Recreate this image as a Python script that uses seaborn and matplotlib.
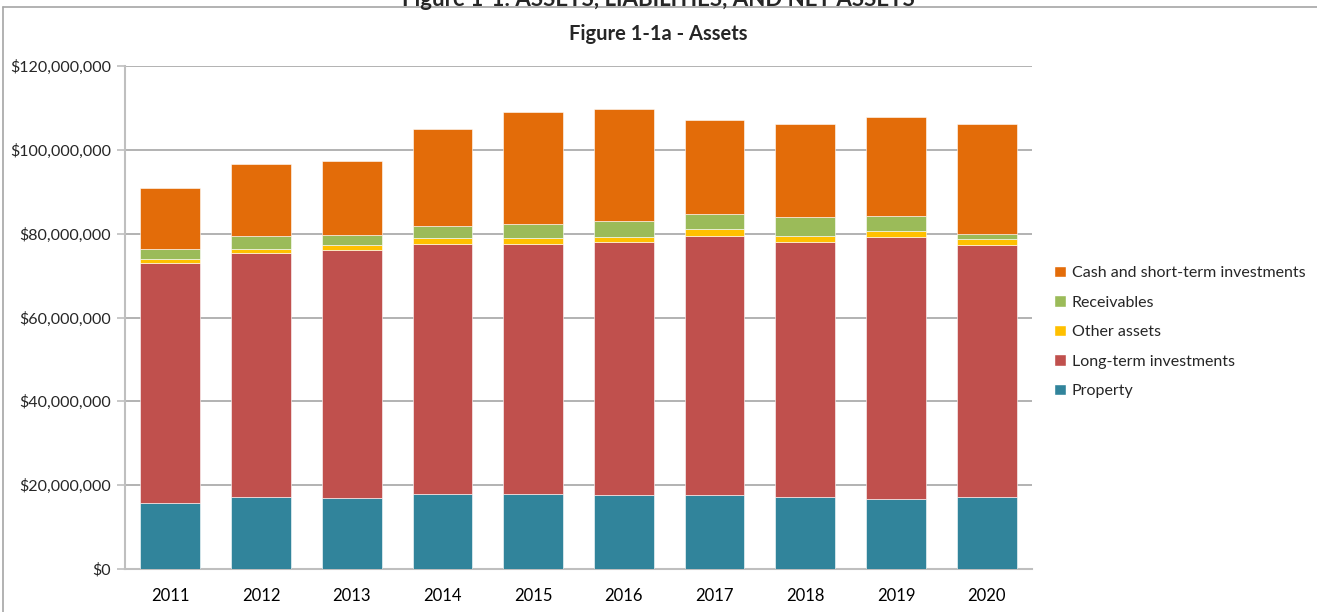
import seaborn as sns
import matplotlib.pyplot as plt
import matplotlib.ticker as mticker
from matplotlib.lines import Line2D
from matplotlib.patches import Patch
import pandas as pd

# values in $ millions
years = ['2011', '2012', '2013', '2014', '2015', '2016', '2017', '2018', '2019', '2020']
property_ = [15.75, 17.1, 17.0, 18.0, 17.8, 17.6, 17.6, 17.1, 16.8, 17.1]
long_term = [57.35, 58.2, 59.1, 59.6, 59.8, 60.3, 61.9, 60.9, 62.3, 60.1]
other_assets = [0.95, 1.1, 1.3, 1.4, 1.4, 1.4, 1.6, 1.5, 1.5, 1.5]
receivables = [2.35, 3.1, 2.3, 2.9, 3.3, 3.8, 3.6, 4.5, 3.6, 1.3]
cash = [14.5, 17.2, 17.6, 23.1, 26.8, 26.7, 22.4, 22.1, 23.6, 26.2]

series = ['Property', 'Long-term investments', 'Other assets', 'Receivables',
          'Cash and short-term investments']
colors = ['#31849B', '#C0504D', '#FFC000', '#9BBB59', '#E36C09']

df = pd.DataFrame({
    'year': years,
    'Property': property_,
    'Long-term investments': long_term,
    'Other assets': other_assets,
    'Receivables': receivables,
    'Cash and short-term investments': cash,
})
for s in series:
    df[s] = df[s] * 1e6

sns.set_style('white')
plt.rcParams['font.family'] = ['Lato', 'DejaVu Sans']

fig = plt.figure(figsize=(13.17, 6.12), dpi=100)
ax = fig.add_axes([125 / 1317, 1 - 569 / 612, (1032 - 125) / 1317, (569 - 66) / 612])

bottom = pd.Series([0.0] * len(df))
for s, c in zip(series, colors):
    sns.barplot(data=df, x='year', y=s, bottom=bottom.values, color=c, saturation=1,
                width=0.66, ax=ax, edgecolor='white', linewidth=0.4, zorder=3)
    bottom = bottom + df[s]

ax.set_ylim(0, 120e6)
ax.set_xlim(-0.5, len(years) - 0.5)
ax.yaxis.set_major_locator(mticker.MultipleLocator(20e6))
ax.yaxis.set_major_formatter(mticker.FuncFormatter(lambda v, p: '${:,.0f}'.format(v)))
ax.grid(axis='y', color='#A6A6A6', linewidth=1.2, zorder=0)
ax.set_xlabel('')
ax.set_ylabel('')

for sp in ['top', 'right']:
    ax.spines[sp].set_visible(False)
ax.spines['left'].set_color('#BFBFBF')
ax.spines['left'].set_linewidth(1.5)
ax.spines['bottom'].set_color('#BFBFBF')
ax.spines['bottom'].set_linewidth(1.5)

# x ticks: labels centred, tick marks between categories
ax.set_xticks(range(len(years)))
ax.set_xticklabels(years)
ax.tick_params(axis='x', which='major', length=0, labelsize=12, pad=14, colors='black')
ax.set_xticks([i - 0.5 for i in range(len(years) + 1)], minor=True)
ax.tick_params(axis='x', which='minor', length=6, width=1.2, color='#BFBFBF', direction='out')
ax.tick_params(axis='y', length=6, width=1.2, color='#BFBFBF', labelsize=11.5, pad=4,
               direction='out', left=True)

fig.text(0.5, 1 - 34 / 612, 'Figure 1-1a - Assets', ha='center', va='center',
         fontsize=14.5, fontweight='bold')

handles = [Patch(facecolor=c, label=s) for s, c in zip(series, colors)][::-1]
fig.legend(handles=handles, loc='center left', bbox_to_anchor=(1040 / 1317, 1 - 332 / 612),
           frameon=False, fontsize=11.5, handlelength=0.7, handleheight=0.7,
           handletextpad=0.4, labelspacing=0.96)

# cut-off outer caption and frame
fig.text(0.5, 1.0, 'Figure 1-1: ASSETS, LIABILITIES, AND NET ASSETS', ha='center',
         va='center', fontsize=16, fontweight='bold')
fig.add_artist(Line2D([3 / 1317, 1], [1 - 7 / 612, 1 - 7 / 612], color='#A6A6A6',
                      linewidth=1.2, transform=fig.transFigure))
fig.add_artist(Line2D([3 / 1317, 3 / 1317], [0, 1 - 7 / 612], color='#A6A6A6',
                      linewidth=1.2, transform=fig.transFigure))

fig.savefig('out.png', dpi=100)
